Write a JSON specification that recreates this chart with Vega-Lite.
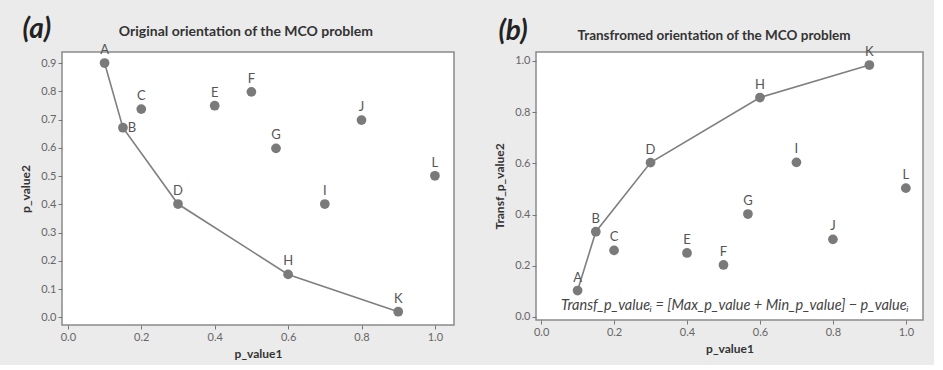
{
  "$schema": "https://vega.github.io/schema/vega-lite/v6.json",
  "background": "#ebebeb",
  "padding": {"left": 18, "top": 15, "right": 10, "bottom": 5},
  "spacing": 37,
  "datasets": {
    "pts": [
      {"label": "A", "p1": 0.1, "p2": 0.9, "t2": 0.103, "front": true},
      {"label": "B", "p1": 0.15, "p2": 0.671, "t2": 0.333, "front": true},
      {"label": "C", "p1": 0.2, "p2": 0.737, "t2": 0.26, "front": false},
      {"label": "D", "p1": 0.3, "p2": 0.401, "t2": 0.603, "front": true},
      {"label": "E", "p1": 0.4, "p2": 0.749, "t2": 0.25, "front": false},
      {"label": "F", "p1": 0.5, "p2": 0.798, "t2": 0.203, "front": false},
      {"label": "G", "p1": 0.567, "p2": 0.598, "t2": 0.402, "front": false},
      {"label": "H", "p1": 0.6, "p2": 0.152, "t2": 0.857, "front": true},
      {"label": "I", "p1": 0.7, "p2": 0.401, "t2": 0.604, "front": false},
      {"label": "J", "p1": 0.8, "p2": 0.698, "t2": 0.303, "front": false},
      {"label": "K", "p1": 0.9, "p2": 0.02, "t2": 0.984, "front": true},
      {"label": "L", "p1": 1.0, "p2": 0.501, "t2": 0.503, "front": false}
    ],
    "tagA": [{"tag": "(a)", "p1": -0.0845, "p2": 1.017}],
    "titleA": [{"t": "Original orientation of the MCO problem", "p1": 0.485, "p2": 1.0096}],
    "tagB": [{"tag": "(b)", "p1": -0.077, "t2": 1.113}],
    "titleB": [{"t": "Transfromed orientation of the MCO problem", "p1": 0.474, "t2": 1.098}],
    "formula": [{"f": "Transf_p_valueᵢ = [Max_p_value + Min_p_value] − p_valueᵢ", "p1": 0.531, "t2": 0.044}]
  },
  "config": {
    "font": "Lato",
    "view": {"fill": "white", "stroke": "#8a8a8a", "strokeWidth": 1.5},
    "axis": {
      "grid": false, "domain": false, "tickColor": "#777", "tickSize": 4,
      "labelColor": "#666", "labelFontSize": 11, "labelFont": "Lato",
      "titleColor": "#333", "titleFontSize": 12, "titleFontWeight": "bold", "titleFont": "Lato"
    }
  },
  "hconcat": [
    {
      "width": 392, "height": 273,
      "encoding": {
        "x": {"field": "p1", "type": "quantitative", "scale": {"domain": [-0.016, 1.052], "nice": false, "zero": false},
              "axis": {"values": [0, 0.2, 0.4, 0.6, 0.8, 1.0], "format": ".1f", "title": "p_value1", "titlePadding": 6}},
        "y": {"field": "p2", "type": "quantitative", "scale": {"domain": [-0.027, 0.939], "nice": false, "zero": false},
              "axis": {"values": [0, 0.1, 0.2, 0.3, 0.4, 0.5, 0.6, 0.7, 0.8, 0.9], "format": ".1f", "title": "p_value2", "titlePadding": 8}}
      },
      "layer": [
        {"data": {"name": "pts"}, "transform": [{"filter": "datum.front"}], "mark": {"type": "line", "color": "#7f7f7f", "strokeWidth": 1.6},
         "encoding": {"order": {"field": "p1"}}},
        {"data": {"name": "pts"}, "mark": {"type": "circle", "size": 95, "color": "#7a7a7a", "opacity": 1}},
        {"data": {"name": "pts"}, "transform": [{"filter": "datum.label != 'B'"}], "mark": {"type": "text", "dy": -13, "fontSize": 13, "color": "#555"},
         "encoding": {"text": {"field": "label"}}},
        {"data": {"name": "pts"}, "transform": [{"filter": "datum.label == 'B'"}], "mark": {"type": "text", "dx": 9, "dy": 0, "fontSize": 13, "color": "#555"},
         "encoding": {"text": {"field": "label"}}},
        {"data": {"name": "tagA"}, "mark": {"type": "text", "fontSize": 28, "fontStyle": "italic", "fontWeight": "bold", "color": "#222", "baseline": "middle"},
         "encoding": {"text": {"field": "tag"}}},
        {"data": {"name": "titleA"}, "mark": {"type": "text", "fontSize": 14, "fontWeight": "bold", "color": "#333", "baseline": "middle"},
         "encoding": {"text": {"field": "t"}}}
      ]
    },
    {
      "width": 387, "height": 268,
      "encoding": {
        "x": {"field": "p1", "type": "quantitative", "scale": {"domain": [-0.014, 1.047], "nice": false, "zero": false},
              "axis": {"values": [0, 0.2, 0.4, 0.6, 0.8, 1.0], "format": ".1f", "title": "p_value1", "titlePadding": 6}},
        "y": {"field": "t2", "type": "quantitative", "scale": {"domain": [-0.012, 1.035], "nice": false, "zero": false},
              "axis": {"values": [0, 0.2, 0.4, 0.6, 0.8, 1.0], "format": ".1f", "title": "Transf_p_value2", "titlePadding": 8}}
      },
      "layer": [
        {"data": {"name": "pts"}, "transform": [{"filter": "datum.front"}], "mark": {"type": "line", "color": "#7f7f7f", "strokeWidth": 1.6},
         "encoding": {"order": {"field": "p1"}}},
        {"data": {"name": "pts"}, "mark": {"type": "circle", "size": 95, "color": "#7a7a7a", "opacity": 1}},
        {"data": {"name": "pts"}, "mark": {"type": "text", "dy": -13, "fontSize": 13, "color": "#555"},
         "encoding": {"text": {"field": "label"}}},
        {"data": {"name": "tagB"}, "mark": {"type": "text", "fontSize": 28, "fontStyle": "italic", "fontWeight": "bold", "color": "#222", "baseline": "middle"},
         "encoding": {"text": {"field": "tag"}}},
        {"data": {"name": "titleB"}, "mark": {"type": "text", "fontSize": 13.5, "fontWeight": "bold", "color": "#333", "baseline": "middle"},
         "encoding": {"text": {"field": "t"}}},
        {"data": {"name": "formula"}, "mark": {"type": "text", "fontSize": 14.5, "fontStyle": "italic", "color": "#444", "baseline": "middle"},
         "encoding": {"text": {"field": "f"}}}
      ]
    }
  ]
}
